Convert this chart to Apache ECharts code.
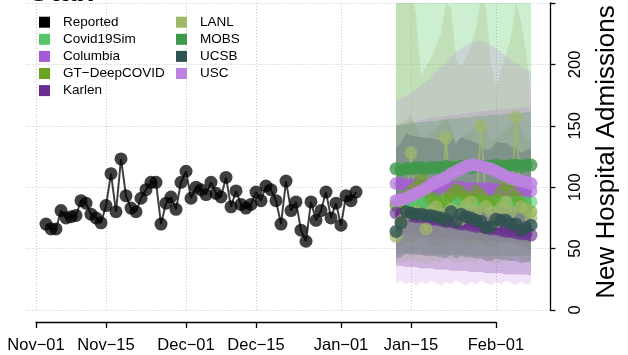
<!DOCTYPE html>
<html><head><meta charset="utf-8">
<script src="https://cdn.jsdelivr.net/npm/echarts@6/dist/echarts.min.js"></script>
<style>html,body{margin:0;padding:0;background:#fff}#c{width:628px;height:355px}</style>
</head><body><div id="c"></div>
<script>
const FONT = '"Liberation Sans", Arial, Helvetica, sans-serif';

// x ticks: days since Nov-01
const xTickDays = [0, 14, 30, 44, 61, 75, 92];
const xTickLabels = ['Nov−01', 'Nov−15', 'Dec−01', 'Dec−15', 'Jan−01', 'Jan−15', 'Feb−01'];
const yTicks = [0, 50, 100, 150, 200];

// Reported daily admissions, starting Nov-03 (day 2)
const reportedFirstDay = 2;
const reported = [70,66,66,81,75,76,77,89,87,78, 75,71,85,111,80,123,93,83,80,91,
  98,104,104,70,87,92,82,104,113,91, 100,98,94,104,95,92,108,84,97,86,
  83,86,96,89,101,98,89,70,105,81, 88,65,56,88,73,81,96,75,87,69, 93,89,96];

// Forecasts, starting Jan-12 (day 72)
const forecastFirstDay = 72;
const modelNames = ['Covid19Sim', 'Columbia', 'GT−DeepCOVID', 'Karlen', 'LANL', 'MOBS', 'UCSB', 'USC'];
const modelColors = ['#55c667', '#a65bd6', '#6aa51f', '#6a2d91', '#9fb86a', '#3e9a4b', '#2f5350', '#bd82e0'];
const bandAlpha = [0.3, 0.2, 0.22, 0.3, 0.25, 0.3, 0.3, 0.22];
const pointAlpha = [0.6, 0.6, 0.6, 0.65, 0.7, 0.8, 0.8, 0.85];

const covid19simMed = [86,87,87,88,88,87,88,88,87,88,88,87,88,88,88,87,88,88,88,87,88,88,88,88,87,88,88,88];
const covid19simLo  = [46,46,46,46,46,46,45,45,45,45,45,45,45,45,45,44,44,44,44,44,44,44,44,44,44,44,44,44];
const covid19simHi  = [260,260,261,261,262,262,263,263,264,264,265,265,265,266,266,266,267,267,267,268,268,268,268,269,269,269,270,270];

const columbiaMed = [103,103,102,102,102,101,101,101,101,100,100,100,100,100,99,99,99,99,99,99,98,98,98,98,98,98,97,97];
const columbiaLo  = [62,62,61,61,61,60,60,60,59,59,59,58,58,58,58,57,57,57,56,56,56,56,55,55,55,55,54,54];
const columbiaHi  = [150,151,152,153,154,155,156,157,157,158,158,159,159,160,160,161,161,162,162,163,163,163,164,164,164,165,165,165];

const gtMed = [85,88,92,96,100,106,98,91,88,84,90,94,98,96,92,90,97,93,88,86,90,96,102,98,92,86,82,80];
const gtLo  = [52,53,54,55,56,58,55,53,52,51,53,55,56,55,53,52,55,54,52,51,52,55,57,56,53,51,50,49];
const gtHi  = [150,152,155,158,150,140,142,145,148,152,157,150,138,140,143,146,150,155,148,138,140,143,147,150,156,148,140,138];

const karlenMed = [79,78,78,77,76,76,75,74,74,73,72,72,71,70,70,69,68,68,67,66,66,65,64,64,63,62,62,61];
const karlenLo  = [36,36,35,35,35,34,34,34,33,33,33,32,32,32,32,31,31,31,30,30,30,30,29,29,29,29,29,28];
const karlenHi  = [106,105,105,104,104,103,103,102,102,101,101,100,100,99,99,98,98,97,97,96,96,95,95,94,94,93,93,92];

const lanlMed = [60,72,78,128,80,78,66,80,84,78,140,82,80,74,85,88,80,150,84,80,72,83,88,80,157,84,82,75];
const lanlLo  = [38,39,40,42,40,39,37,39,40,39,43,40,39,38,40,40,39,44,40,39,37,39,40,39,45,40,39,38];
const lanlHi  = [260,255,250,265,240,191,198,205,215,225,250,245,205,198,205,215,228,255,245,200,181,195,208,222,250,235,210,177];

const mobsMed = [115,114,115,115,116,116,115,116,116,116,117,116,116,117,117,116,117,117,117,117,118,117,117,118,118,117,118,118];
const mobsLo  = [78,78,78,77,77,77,77,77,76,76,76,76,76,75,75,75,75,75,75,74,74,74,74,74,74,73,73,73];
const mobsHi  = [150,151,151,152,152,153,153,154,154,155,155,156,156,157,157,157,158,158,158,159,159,159,160,160,160,160,161,161];

const ucsbMed = [64,71,80,79,78,78,77,77,76,75,73,80,72,78,76,75,73,72,67,68,74,73,73,70,70,65,67,69];
const ucsbLo  = [42,43,46,45,45,45,44,44,44,43,42,45,42,44,43,43,42,42,40,40,42,41,41,40,40,38,39,40];
const ucsbHi  = [132,136,144,142,141,141,140,140,139,138,136,143,135,141,139,138,136,135,130,131,137,136,136,133,133,128,130,132];

const uscMed = [89,90,91,93,95,97,99,102,104,106,108,111,113,115,117,118,118,117,116,115,113,111,109,107,106,105,104,103];
const uscLo  = [22,24,21,23,20,23,21,24,22,20,23,21,24,22,20,23,21,24,22,20,23,21,24,22,20,23,21,22];
const uscHi  = [170,172,174,177,180,183,186,190,194,198,202,206,210,213,216,218,219,219,218,216,213,210,207,204,201,198,196,194];

const modelMeds = [covid19simMed, columbiaMed, gtMed, karlenMed, lanlMed, mobsMed, ucsbMed, uscMed];
const modelLos  = [covid19simLo, columbiaLo, gtLo, karlenLo, lanlLo, mobsLo, ucsbLo, uscLo];
const modelHis  = [covid19simHi, columbiaHi, gtHi, karlenHi, lanlHi, mobsHi, ucsbHi, uscHi];

function hexA(hex, a) {
  const n = parseInt(hex.slice(1), 16);
  return 'rgba(' + ((n >> 16) & 255) + ',' + ((n >> 8) & 255) + ',' + (n & 255) + ',' + a + ')';
}

const series = [];
// uncertainty bands as polygons through the axis scales
modelNames.forEach((m, k) => {
  const lo = modelLos[k], hi = modelHis[k];
  series.push({
    type: 'custom', silent: true, clip: true, xAxisIndex: 0, yAxisIndex: 0, z: 1,
    data: lo.map((v, i) => [forecastFirstDay + i, v, hi[i]]),
    renderItem: (params, api) => {
      if (params.dataIndex !== 0) return null;
      const pts = [];
      for (let i = 0; i < hi.length; i++) pts.push(api.coord([forecastFirstDay + i, hi[i]]));
      for (let i = lo.length - 1; i >= 0; i--) pts.push(api.coord([forecastFirstDay + i, lo[i]]));
      return { type: 'polygon', shape: { points: pts }, style: { fill: hexA(modelColors[k], bandAlpha[k]) } };
    }
  });
});
// reported
series.push({
  type: 'line', name: 'Reported', symbol: 'circle', symbolSize: 13,
  data: reported.map((v, i) => [reportedFirstDay + i, v]),
  itemStyle: { color: 'rgba(0,0,0,0.75)' },
  lineStyle: { color: 'rgba(0,0,0,0.75)', width: 2 },
  xAxisIndex: 0, yAxisIndex: 0, z: 5
});
// model medians
modelNames.forEach((m, k) => {
  series.push({
    type: 'line', name: m, symbol: 'circle', symbolSize: 13,
    data: modelMeds[k].map((v, i) => [forecastFirstDay + i, v]),
    itemStyle: { color: hexA(modelColors[k], pointAlpha[k]) },
    lineStyle: { color: hexA(modelColors[k], pointAlpha[k]), width: 2 },
    xAxisIndex: 0, yAxisIndex: 0, z: 4
  });
});

const legendCommon = {
  orient: 'vertical', icon: 'rect', itemWidth: 11, itemHeight: 11, itemGap: 3.1,
  padding: 0, selectedMode: false,
  textStyle: { fontFamily: FONT, fontSize: 13.5, color: '#000', padding: [0, 0, 0, 8] }
};
const legItem = (name) => {
  const k = modelNames.indexOf(name);
  const c = k < 0 ? '#000000' : modelColors[k];
  return { name: name, itemStyle: { color: c, opacity: 1, borderWidth: 0 } };
};

const gridLineStyle = { color: '#c8c8c8', width: 1, type: [1, 2] };

const option = {
  animation: false,
  backgroundColor: '#ffffff',
  grid: [
    { left: 26.6, right: 77.6, top: -23.33, bottom: 45 },
    { left: 36, right: 132, top: 321, bottom: 33 }
  ],
  xAxis: [
    { type: 'value', gridIndex: 0, min: -1.88, max: 102.88,
      axisLine: { show: false, onZero: false }, axisLabel: { show: false },
      axisTick: { show: false, customValues: xTickDays },
      splitLine: { show: true, lineStyle: gridLineStyle } },
    { type: 'value', gridIndex: 1, min: 0, max: 92, position: 'bottom',
      axisLine: { show: true, onZero: false, lineStyle: { color: '#000', width: 1.3 } },
      axisTick: { show: true, length: 6, lineStyle: { color: '#000', width: 1.3 }, customValues: xTickDays },
      axisLabel: { show: true, margin: 15, fontFamily: FONT, fontSize: 16.5, color: '#000',
        customValues: xTickDays,
        formatter: (v) => { const i = xTickDays.indexOf(Math.round(v)); return i >= 0 ? xTickLabels[i] : ''; } },
      splitLine: { show: false } }
  ],
  yAxis: [
    { type: 'value', gridIndex: 0, position: 'right', min: 0, max: 250, interval: 50,
      axisLine: { show: true, onZero: false, lineStyle: { color: '#000', width: 1.3 } },
      axisTick: { show: true, length: 5, lineStyle: { color: '#000', width: 1.3 } },
      axisLabel: { show: true, rotate: 90, margin: 17, fontFamily: FONT, fontSize: 16.5, color: '#000',
        formatter: (v) => yTicks.indexOf(v) >= 0 ? String(v) : '' },
      splitLine: { show: true, lineStyle: gridLineStyle } },
    { type: 'value', gridIndex: 1, show: false }
  ],
  legend: [
    Object.assign({}, legendCommon, { left: 39, top: 15.2,
      data: ['Reported', 'Covid19Sim', 'Columbia', 'GT−DeepCOVID', 'Karlen'].map(legItem) }),
    Object.assign({}, legendCommon, { left: 176, top: 15.2,
      data: ['LANL', 'MOBS', 'UCSB', 'USC'].map(legItem) })
  ],
  graphic: [
    { type: 'text', x: 28, y: -7.5, style: { text: 'Utah', font: 'bold 30px ' + FONT, fill: '#000',
      textAlign: 'left', textVerticalAlign: 'middle' } },
    { type: 'text', x: 607, y: 152, rotation: Math.PI / 2,
      style: { text: 'New Hospital Admissions', font: '26px ' + FONT, fill: '#000',
      textAlign: 'center', textVerticalAlign: 'middle' } }
  ],
  series: series
};

const chart = echarts.init(document.getElementById('c'), null, { renderer: 'canvas' });
chart.setOption(option);
</script>
</body></html>
